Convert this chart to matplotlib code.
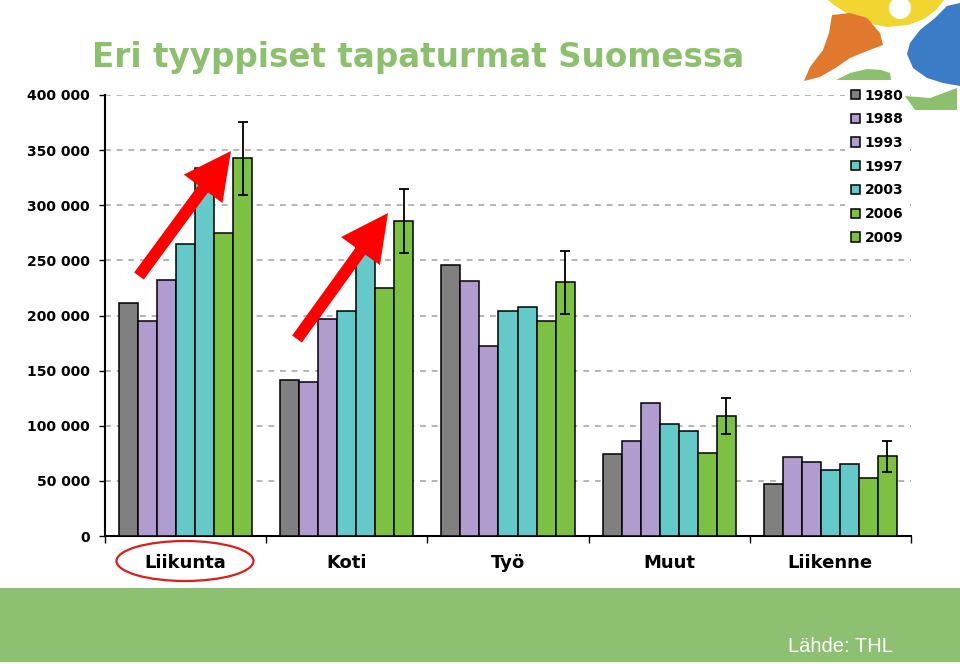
import matplotlib.pyplot as plt
import matplotlib.patches as mpatches
import numpy as np

# data
categories = ['Liikunta', 'Koti', 'Työ', 'Muut', 'Liikenne']
years = ['1980', '1988', '1993', '1997', '2003', '2006', '2009']
v1980 = [211000, 141500, 246000, 74500, 47000]
v1988 = [195000, 140000, 231500, 86500, 71500]
v1993 = [232500, 197000, 172000, 120500, 67500]
v1997 = [265000, 204000, 204500, 101500, 59500]
v2003 = [334000, 262000, 208000, 95000, 65000]
v2006 = [274500, 224500, 195000, 75500, 52500]
v2009 = [342500, 285500, 230000, 109000, 72500]
err2009 = [33000, 29000, 28500, 16500, 14000]
yticks = [0, 50000, 100000, 150000, 200000, 250000, 300000, 350000, 400000]

series = [v1980, v1988, v1993, v1997, v2003, v2006, v2009]
colors = ['#808080', '#b19ccf', '#b19ccf', '#66c9c9', '#66c9c9', '#7dc142', '#7dc142']

W, H = 960, 664
fig = plt.figure(figsize=(9.6, 6.64), dpi=100)
ax = fig.add_axes([105 / W, 1 - 536 / H, (911 - 105) / W, (536 - 95) / H])

w = 0.118
x0 = np.arange(len(categories)) + 0.5
for j, (yr, vals) in enumerate(zip(years, series)):
    ax.bar(x0 + (j - 3) * w, vals, w, color=colors[j], edgecolor='black',
           linewidth=1.1, label=yr, zorder=3)
ax.errorbar(x0 + 3 * w, v2009, yerr=err2009, fmt='none', ecolor='black',
            elinewidth=1.3, capsize=3.5, capthick=1.3, zorder=4)

ax.set_xlim(0, 5)
ax.set_ylim(0, 400000)
ax.set_yticks(yticks)
ax.set_yticklabels(['0' if v == 0 else f'{v:,}'.replace(',', ' ') for v in yticks],
                   fontsize=10, fontweight='bold', family='DejaVu Sans')
ax.tick_params(axis='y', length=4, width=1, pad=7)
ax.set_xticks(range(6))
ax.set_xticklabels([''] * 6)
ax.tick_params(axis='x', which='major', length=5, width=1)
ax.set_xticks(x0, minor=True)
ax.set_xticklabels(categories, minor=True, fontsize=13, fontweight='bold', family='DejaVu Sans')
ax.tick_params(axis='x', which='minor', length=0, pad=13)

ax.yaxis.grid(True, linestyle=(0, (3.5, 3.5)), color='#a8a8a8', linewidth=1.2)
ax.set_axisbelow(True)
for s in ['top', 'right']:
    ax.spines[s].set_visible(False)
for s in ['left', 'bottom']:
    ax.spines[s].set_linewidth(1.5)

leg = ax.legend(loc='upper left', bbox_to_anchor=(838 / W, 1 - 76 / H),
                bbox_transform=fig.transFigure, frameon=True, fancybox=False,
                edgecolor='none', facecolor='white', framealpha=1,
                prop={'family': 'DejaVu Sans', 'weight': 'bold', 'size': 10},
                handlelength=0.65, handleheight=0.65, handletextpad=0.35,
                labelspacing=0.7, borderpad=0.4)
leg.set_zorder(5)

# overlay in pixel coordinates for slide decorations
ov = fig.add_axes([0, 0, 1, 1], zorder=10)
ov.set_xlim(0, W)
ov.set_ylim(H, 0)
ov.axis('off')
ov.patch.set_alpha(0)

# bottom band
ov.add_patch(mpatches.Rectangle((0, 588), W, 74, color='#8dc070', lw=0))
fig.text(893 / W, 1 - 646 / H, 'Lähde: THL', ha='right', va='center', fontsize=14.5,
         color='white', family='Liberation Sans', zorder=11)

# title
fig.text(92 / W, 1 - 57 / H, 'Eri tyyppiset tapaturmat Suomessa', ha='left', va='center',
         fontsize=23.5, fontweight='bold', color='#8cc06e', family='DejaVu Sans', zorder=11)

# logo
yellow = [(828, 0), (944, 0), (936, 10), (924, 19), (908, 25), (887, 27), (867, 23),
          (848, 14), (834, 5)]
orange = [(832, 15), (850, 13), (867, 18), (880, 33), (883, 45), (867, 51), (850, 58),
          (837, 67), (820, 77), (804, 81), (810, 67), (823, 50), (829, 33)]
blue = [(947, 6), (960, 3), (960, 86), (943, 83), (927, 78), (913, 68), (907, 54),
        (910, 43), (920, 30), (935, 18)]
green1 = [(836, 80), (850, 73), (867, 69), (881, 70), (890, 73), (891, 80)]
green2 = [(905, 96), (930, 98), (957, 88), (957, 110), (915, 110)]
ov.add_patch(mpatches.Polygon(yellow, closed=True, color='#f2d530', lw=0))
ov.add_patch(mpatches.Circle((900, 8), 11, color='white', lw=0))
ov.add_patch(mpatches.Polygon(orange, closed=True, color='#e0782e', lw=0))
ov.add_patch(mpatches.Polygon(blue, closed=True, color='#3a7cc6', lw=0))
ov.add_patch(mpatches.Polygon(green1, closed=True, color='#8cc06e', lw=0))
ov.add_patch(mpatches.Polygon(green2, closed=True, color='#8cc06e', lw=0))

# red arrows and ellipse
for (xt, yt), (xh, yh) in [((139, 276), (231, 151)), ((297, 339), (388, 213))]:
    ov.add_patch(mpatches.FancyArrow(xt, yt, xh - xt, yh - yt, width=12, head_width=48,
                                     head_length=47, length_includes_head=True,
                                     color='#ff0000', lw=0))
ov.add_patch(mpatches.Ellipse((185, 561), 137, 40, fill=False, edgecolor='#dd1c1c', lw=1.6))

fig.savefig('out.png', dpi=100)
